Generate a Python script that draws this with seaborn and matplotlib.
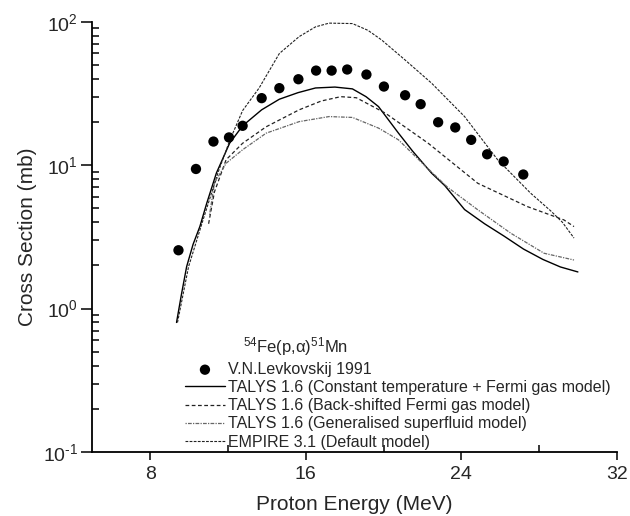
import numpy as np
import pandas as pd
import matplotlib
matplotlib.use("Agg")
import matplotlib.pyplot as plt
import seaborn as sns
from matplotlib.ticker import FixedLocator, LogLocator, NullFormatter, FuncFormatter

# ---------------- data ----------------
exp_energy = [9.45, 10.35, 11.25, 12.05, 12.75, 13.73, 14.64, 15.62, 16.53, 17.33,
              18.13, 19.12, 20.02, 21.11, 21.91, 22.81, 23.69, 24.51, 25.33, 26.18, 27.19]
exp_xs = [2.55, 9.4, 14.6, 15.6, 18.8, 29.3, 34.4, 39.7, 45.6, 45.6,
          46.4, 42.8, 35.3, 30.7, 26.6, 19.9, 18.3, 15.0, 11.9, 10.6, 8.6]

ct_energy = [9.35, 9.6, 9.87, 10.2, 10.55, 10.9, 11.4, 12.08, 12.75, 13.73, 14.64, 15.6,
             16.5, 17.5, 18.4, 19.1, 19.74, 20.77, 21.5, 22.47, 23.15, 24.17, 25.2,
             26.2, 27.2, 28.2, 29.1, 30.0]
ct_xs = [0.80, 1.25, 1.96, 2.8, 3.73, 5.4, 8.8, 14.2, 18.8, 24.3, 28.8, 32.0,
         34.5, 35.0, 34.0, 30.0, 25.6, 16.7, 12.5, 8.8, 7.2, 4.9, 3.9,
         3.2, 2.6, 2.2, 1.95, 1.8]

bsfg_energy = [11.0, 11.3, 11.9, 12.75, 13.96, 15.66, 16.8, 17.8, 18.6, 20.1, 22.3,
               24.85, 27.4, 29.28, 29.8]
bsfg_xs = [3.9, 6.5, 10.9, 14.2, 18.5, 24.3, 28.0, 30.0, 29.5, 23.0, 14.2,
           7.47, 5.14, 4.15, 3.73]

gsm_energy = [11.05, 11.3, 11.9, 12.75, 13.96, 15.66, 17.2, 18.4, 19.75, 20.77, 22.0,
              23.3, 24.85, 26.55, 28.26, 29.8]
gsm_xs = [4.5, 7.5, 10.3, 12.8, 16.7, 20.1, 21.8, 21.5, 18.1, 15.0, 10.3,
          7.0, 4.88, 3.35, 2.43, 2.18]

emp_energy = [9.4, 9.97, 10.6, 11.0, 11.5, 12.1, 12.75, 13.6, 14.64, 15.66, 16.5, 17.2,
              18.4, 19.2, 19.9, 21.1, 22.47, 24.17, 25.87, 27.57, 28.6, 29.2, 29.8]
emp_xs = [0.8, 1.96, 3.7, 5.5, 9.0, 15.0, 24.0, 34.5, 60.0, 78.7, 92.0, 97.7,
          97.0, 87.0, 74.6, 54.2, 37.3, 21.8, 10.9, 6.37, 4.8, 4.0, 3.1]

labels = ["V.N.Levkovskij 1991",
          "TALYS 1.6 (Constant temperature + Fermi gas model)",
          "TALYS 1.6 (Back-shifted Fermi gas model)",
          "TALYS 1.6 (Generalised superfluid model)",
          "EMPIRE 3.1 (Default model)"]
legend_title = "$^{54}$Fe(p,α)$^{51}$Mn"
x_ticks = [8, 16, 24, 32]
x_minor = [12, 20, 28]

# ---------------- style ----------------
sns.set_theme(style="ticks")
plt.rcParams['font.family'] = ['Liberation Sans', 'DejaVu Sans']
plt.rcParams['mathtext.fontset'] = 'custom'
plt.rcParams['mathtext.rm'] = 'Liberation Sans'
plt.rcParams['mathtext.it'] = 'Liberation Sans:italic'
plt.rcParams['mathtext.default'] = 'regular'
plt.rcParams['axes.unicode_minus'] = False

fig = plt.figure(figsize=(6.3, 5.16), dpi=100)
ax = fig.add_axes([0.146, 0.124, 0.833, 0.834])

curves = [
    (ct_energy, ct_xs, labels[1], dict(color='black', linewidth=1.0, linestyle='-')),
    (bsfg_energy, bsfg_xs, labels[2], dict(color='#222222', linewidth=0.9, linestyle=(0, (3, 2)))),
    (gsm_energy, gsm_xs, labels[3], dict(color='#666666', linewidth=0.9, linestyle=(0, (1, 1, 3, 1)))),
    (emp_energy, emp_xs, labels[4], dict(color='#222222', linewidth=0.8, linestyle=(0, (2.5, 1.2)))),
]

sns.scatterplot(x=exp_energy, y=exp_xs, ax=ax, color='black', s=55, edgecolor='none',
                label=labels[0], zorder=3)
for e, s, lab, kw in curves:
    df = pd.DataFrame({'E': e, 'xs': s})
    sns.lineplot(data=df, x='E', y='xs', ax=ax, label=lab, sort=False, estimator=None, **kw)

ax.set_yscale('log')
ax.set_xlim(5, 32)
ax.set_ylim(0.1, 100)


def log_fmt(v, p):
    k = int(round(np.log10(v)))
    if k < 0:
        return r"$10^{\text{-}%d}$" % (-k)
    return "$10^{%d}$" % k


ax.xaxis.set_major_locator(FixedLocator(x_ticks))
ax.xaxis.set_minor_locator(FixedLocator(x_minor))
ax.yaxis.set_major_locator(LogLocator(base=10, numticks=10))
ax.yaxis.set_minor_locator(LogLocator(base=10, subs=np.arange(2, 10), numticks=10))
ax.yaxis.set_minor_formatter(NullFormatter())
ax.yaxis.set_major_formatter(FuncFormatter(log_fmt))

for s in ['top', 'right']:
    ax.spines[s].set_visible(False)
for s in ['left', 'bottom']:
    ax.spines[s].set_linewidth(1.3)
    ax.spines[s].set_color('black')

ax.tick_params(axis='x', which='major', direction='out', length=6, width=1.3, labelsize=14, pad=4)
ax.tick_params(axis='x', which='minor', direction='in', length=5, width=1.3)
ax.tick_params(axis='y', which='major', direction='out', length=8, width=1.3, labelsize=14, pad=2)
ax.tick_params(axis='y', which='minor', direction='in', length=5, width=1.3)

ax.set_xlabel("Proton Energy (MeV)", fontsize=15, labelpad=9)
ax.set_ylabel("Cross Section (mb)", fontsize=15, labelpad=4)
ax.grid(False)

leg = ax.legend(loc='upper left', bbox_to_anchor=(0.162, 0.228), frameon=False,
                fontsize=11.5, handlelength=2.5, handletextpad=0.2, labelspacing=0.2,
                borderpad=0, markerscale=1.0)

ax.text(0.288, 0.245, legend_title, transform=ax.transAxes, fontsize=12,
        ha='left', va='center')

fig.savefig("out.png", dpi=100)
